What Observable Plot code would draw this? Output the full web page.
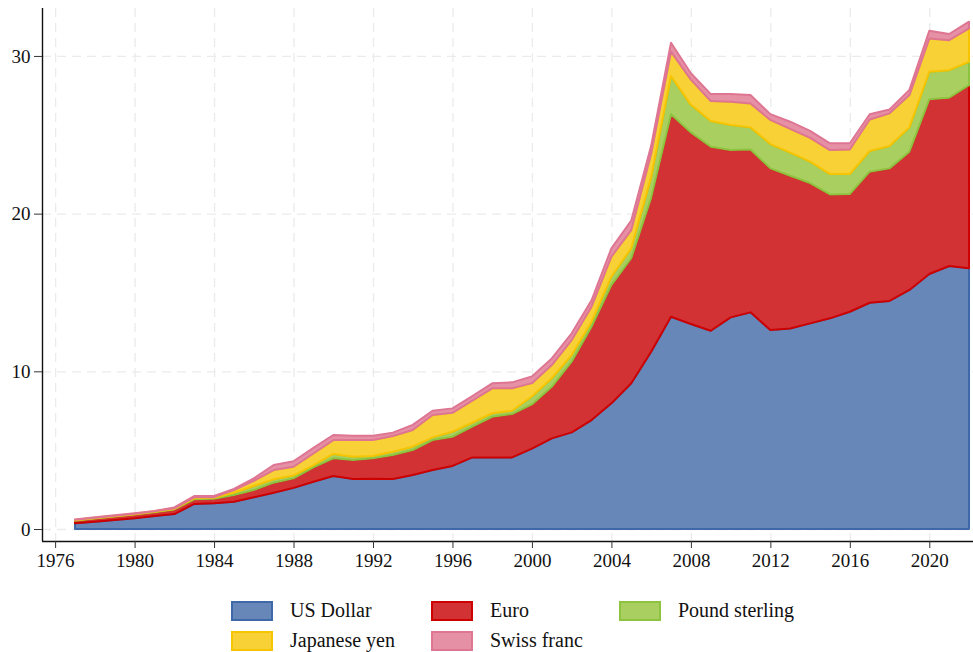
<!DOCTYPE html>
<html>
<head>
<meta charset="utf-8">
<script src="https://cdn.jsdelivr.net/npm/d3@7"></script>
<script src="https://cdn.jsdelivr.net/npm/@observablehq/plot@0.6"></script>
<style>
  html, body { margin: 0; padding: 0; background: #fff; }
  #wrap { position: relative; width: 973px; height: 652px; font-family: "Liberation Serif", "Times New Roman", serif; }
  #legend { position: absolute; left: 0; top: 0; width: 973px; height: 652px; pointer-events: none; }
  .item { position: absolute; display: flex; align-items: center; font-size: 20px; color: #111; white-space: nowrap; }
  .sw { width: 38px; height: 16px; border: 2px solid; margin-right: 17px; }
</style>
</head>
<body>
<div id="wrap"><div id="chart"></div><div id="legend"></div></div>
<script>
const years = [1977,1978,1979,1980,1981,1982,1983,1984,1985,1986,1987,1988,1989,1990,1991,1992,1993,1994,1995,1996,1997,1998,1999,2000,2001,2002,2003,2004,2005,2006,2007,2008,2009,2010,2011,2012,2013,2014,2015,2016,2017,2018,2019,2020,2021,2022];
const currencies = ["US Dollar", "Euro", "Pound sterling", "Japanese yen", "Swiss franc"];
const usd = [0.36,0.46,0.57,0.68,0.82,0.95,1.59,1.63,1.73,2.01,2.30,2.61,3.00,3.36,3.17,3.19,3.17,3.42,3.74,4.00,4.54,4.54,4.54,5.10,5.75,6.13,6.91,7.97,9.24,11.24,13.46,13.00,12.57,13.42,13.74,12.62,12.72,13.04,13.36,13.78,14.35,14.46,15.16,16.17,16.68,16.53];
const eur = [0.17,0.20,0.22,0.24,0.25,0.29,0.29,0.29,0.43,0.46,0.64,0.60,0.91,1.12,1.21,1.29,1.52,1.59,1.90,1.85,1.95,2.58,2.75,2.80,3.27,4.48,5.92,7.50,7.93,9.76,12.84,12.15,11.67,10.61,10.33,10.25,9.68,8.90,7.86,7.46,8.31,8.41,8.77,11.08,10.67,11.62];
const gbp = [0.02,0.02,0.02,0.02,0.02,0.03,0.07,0.06,0.14,0.26,0.21,0.18,0.12,0.28,0.21,0.15,0.21,0.21,0.17,0.32,0.25,0.22,0.21,0.50,0.54,0.42,0.32,0.53,0.63,1.30,2.42,1.75,1.63,1.59,1.40,1.54,1.47,1.36,1.29,1.27,1.31,1.42,1.54,1.74,1.75,1.48];
const jpy = [0.03,0.03,0.03,0.03,0.03,0.04,0.06,0.04,0.17,0.33,0.59,0.56,0.76,0.88,1.05,1.01,1.00,1.06,1.42,1.20,1.40,1.58,1.42,0.85,0.84,0.95,0.95,1.27,1.16,1.50,1.55,1.60,1.27,1.48,1.52,1.53,1.50,1.50,1.52,1.56,2.00,2.07,2.05,2.11,1.90,2.12];
const chf = [0.03,0.03,0.03,0.03,0.03,0.06,0.08,0.08,0.07,0.15,0.32,0.35,0.36,0.32,0.28,0.28,0.21,0.32,0.27,0.28,0.29,0.32,0.38,0.43,0.42,0.43,0.40,0.53,0.60,0.50,0.57,0.40,0.44,0.48,0.53,0.37,0.46,0.45,0.43,0.39,0.33,0.24,0.33,0.50,0.39,0.42];
const xTicks = [1976,1980,1984,1988,1992,1996,2000,2004,2008,2012,2016,2020];
const yTicks = [0,10,20,30];
const fills = ["#6787b8", "#d33235", "#a8cf5f", "#f7d135", "#e590a5"];
const strokes = ["#3e68a8", "#cc0000", "#8ec340", "#f6c400", "#de7592"];

const seriesValues = [usd, eur, gbp, jpy, chf];
const data = [];
currencies.forEach((c, i) => years.forEach((yr, j) => data.push({year: yr, currency: c, value: seriesValues[i][j], fill: fills[i], stroke: strokes[i]})));

const xDomain = [1975.34, 2022.2];
const yDomain = [-0.76, 33.04];
const serif = "'Liberation Serif', 'Times New Roman', serif";

const chart = Plot.plot({
  width: 973,
  height: 581,
  marginLeft: 42,
  marginRight: 0,
  marginTop: 8,
  marginBottom: 40,
  style: {background: "#fff", color: "#111", fontFamily: serif},
  x: {domain: xDomain},
  y: {domain: yDomain},
  color: {type: "identity"},
  marks: [
    Plot.gridX(xTicks, {stroke: "#ebebeb", strokeOpacity: 1, strokeDasharray: "9,6", strokeWidth: 1.3}),
    Plot.gridY(yTicks, {stroke: "#ebebeb", strokeOpacity: 1, strokeDasharray: "9,6", strokeWidth: 1.3}),
    Plot.areaY(data, {x: "year", y: "value", z: "currency", order: currencies, fill: "fill", stroke: "stroke", strokeWidth: 2, strokeLinejoin: "round"}),
    Plot.ruleX([xDomain[0]], {stroke: "#111", strokeWidth: 1.4}),
    Plot.ruleY([yDomain[0]], {stroke: "#111", strokeWidth: 1.4}),
    Plot.axisX(xTicks, {tickSize: 7, tickPadding: 5, tickFormat: d => String(d), stroke: "#333", fill: "#111", fontSize: 19, fontFamily: serif, label: null}),
    Plot.axisY(yTicks, {tickSize: 8, tickPadding: 4, stroke: "#333", fill: "#111", fontSize: 19, fontFamily: serif, label: null})
  ]
});
document.getElementById("chart").appendChild(chart);

const legendPos = [[231, 599], [431, 599], [619, 599], [231, 629], [431, 629]];
const legend = document.getElementById("legend");
currencies.forEach((c, i) => {
  const it = document.createElement("div");
  it.className = "item";
  it.style.left = legendPos[i][0] + "px";
  it.style.top = legendPos[i][1] + "px";
  const sw = document.createElement("div");
  sw.className = "sw";
  sw.style.background = fills[i];
  sw.style.borderColor = strokes[i];
  const lb = document.createElement("span");
  lb.textContent = c;
  it.appendChild(sw);
  it.appendChild(lb);
  legend.appendChild(it);
});
</script>
</body>
</html>
